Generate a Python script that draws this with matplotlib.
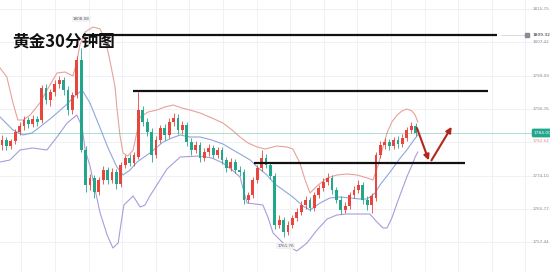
import numpy as np
import matplotlib
matplotlib.use("Agg")
import matplotlib.pyplot as plt
from matplotlib.patches import FancyBboxPatch

# ---------------- data ----------------
opens = [1781.75, 1783, 1781.5, 1782.75, 1785, 1786.5, 1788, 1787, 1788.25, 1788,
         1796, 1793, 1795, 1797, 1798, 1795.5, 1790.5, 1794.25, 1803, 1780.5,
         1771.75, 1773.5, 1770, 1773, 1775.5, 1773, 1775, 1772, 1776.75, 1778.5,
         1777.25, 1778.75, 1790.5, 1787.5, 1785, 1779.25, 1783, 1786, 1784.25, 1787.5,
         1788.5, 1785.5, 1786.75, 1782.5, 1780.5, 1781.75, 1778.5, 1780, 1781, 1779.25,
         1780.5, 1778, 1776, 1777.5, 1775.5, 1775, 1768, 1769.25, 1773, 1776,
         1778.5, 1776.75, 1774, 1761.75, 1763, 1760, 1761.75, 1763.5, 1765, 1766.75,
         1768, 1766, 1769.25, 1771, 1772.5, 1773.5, 1770.5, 1768, 1765.5, 1766.5,
         1769.25, 1770.5, 1771.75, 1768, 1766.75, 1768.5, 1779.25, 1781.75, 1782.5, 1781.5,
         1783, 1782, 1783.5, 1785.5, 1786.5]
closes = [1783, 1781.5, 1782.75, 1785, 1786.5, 1788, 1787, 1788.25, 1787.5, 1796,
          1793, 1795, 1797, 1798, 1795.5, 1790.5, 1794.25, 1803, 1780.5, 1771.75,
          1773.5, 1770, 1773, 1775.5, 1773, 1775, 1772, 1776.75, 1778.5, 1777.25,
          1779.25, 1790.5, 1787.5, 1785, 1779.25, 1783, 1786, 1784.25, 1787.5, 1788.5,
          1785.5, 1786.75, 1782.5, 1780.5, 1781.75, 1778.5, 1780, 1781, 1779.25, 1780.5,
          1778, 1776, 1777.5, 1775.5, 1775, 1768, 1769.25, 1773, 1776, 1778.5,
          1776.75, 1774, 1761.75, 1763, 1760, 1761.75, 1763.5, 1765, 1766.75, 1768,
          1766, 1769.25, 1771, 1772.5, 1773.5, 1770.5, 1768, 1765.5, 1766.5, 1769.25,
          1770.5, 1771.75, 1768, 1766.75, 1769, 1779.25, 1781.75, 1782.5, 1781.5, 1783,
          1782, 1783.5, 1785.5, 1786.5, 1784.75]
highs = [1784.25, 1783.75, 1783.25, 1785.75, 1787.5, 1789, 1788.75, 1789.25, 1789, 1796.75,
         1797, 1795.75, 1798, 1799, 1798.75, 1796.5, 1795, 1804, 1806, 1781.5,
         1774.5, 1774.25, 1773.75, 1776.5, 1776.25, 1776, 1775.75, 1777.5, 1779.25, 1779.5,
         1780, 1795, 1791.5, 1788.5, 1786, 1784, 1786.75, 1787, 1788.5, 1789.75,
         1789.5, 1787.75, 1787.5, 1783.5, 1782.75, 1782.5, 1781, 1782, 1781.75, 1781.25,
         1781.25, 1778.75, 1778.5, 1778.25, 1776.5, 1775.75, 1770, 1773.75, 1776.75, 1780.5,
         1779.5, 1777.5, 1774.75, 1764.25, 1763.75, 1762.75, 1764.25, 1766, 1767.75, 1769,
         1768.75, 1770, 1771.75, 1773.5, 1774.75, 1774.25, 1771.25, 1769, 1767.5, 1770,
         1771.5, 1773, 1772.5, 1769, 1769.75, 1780, 1782.75, 1783.5, 1783.25, 1783.75,
         1784, 1784.5, 1786.25, 1787.5, 1787.25]
lows = [1780.5, 1780.5, 1780.75, 1782, 1784.25, 1785.5, 1786, 1786.25, 1786.5, 1787.25,
        1792, 1791.5, 1794, 1796, 1794.25, 1789.25, 1789.5, 1793.5, 1780, 1770,
        1770.5, 1768.5, 1769.25, 1772, 1772, 1772.25, 1770.75, 1771.25, 1776, 1776.5,
        1776.5, 1778.25, 1786.5, 1784, 1777.5, 1778.5, 1782.25, 1783, 1783.5, 1786.5,
        1784.5, 1784.5, 1781.5, 1779.25, 1779.75, 1777.5, 1777.75, 1779, 1778.5, 1778.5,
        1777, 1775, 1775.25, 1774.75, 1774, 1767, 1767.25, 1768.5, 1772.25, 1775.25,
        1776, 1773.25, 1760.75, 1761, 1758.75, 1759.25, 1761, 1762.75, 1764.25, 1765.75,
        1765.25, 1765.25, 1768.5, 1770.25, 1771.75, 1769.5, 1767.25, 1764.5, 1764.75, 1765.75,
        1768.5, 1769.75, 1767, 1765.5, 1764.75, 1767.75, 1778.5, 1780.75, 1780.5, 1780.75,
        1781, 1781.25, 1782.75, 1784.75, 1784]

upper_x = [-0.45, 1.1, 2.5, 3.6, 4.8, 6.4, 8.6, 10.9, 12.5, 14.3, 16.1, 17.0, 17.7, 18.9,
           20.7, 22.3, 23.6, 24.5, 25.7, 26.1, 26.8, 27.5, 28.6, 29.8, 31.4, 33.2, 35.2,
           37.0, 38.9, 40.9, 42.7, 45.0, 47.7, 50.2, 52.3, 54.1, 55.9, 58.0, 59.8, 62.5,
           64.8, 66.1, 67.7, 68.9, 70.0, 71.6, 73.9, 76.1, 78.4, 80.7, 83.0, 84.3, 85.5,
           86.4, 87.5, 88.6, 89.8, 90.9, 92.0, 93.2, 93.9, 94.5]
upper_y = [1801, 1798.75, 1792.25, 1788, 1788, 1789.25, 1792.25, 1796.75, 1799.75, 1800,
           1799, 1802.5, 1806.75, 1810, 1811.25, 1810.75, 1807.5, 1803, 1796.25, 1791.25,
           1784.25, 1779.75, 1779, 1780.5, 1788.75, 1790, 1790.5, 1791.25, 1791.75, 1791,
           1790.5, 1789.75, 1788.5, 1787.25, 1785.5, 1783.75, 1782.25, 1781.25, 1780.75,
           1781.5, 1781.25, 1780.75, 1777.25, 1773, 1769.75, 1771.5, 1773.5, 1774.25,
           1774.5, 1774.25, 1773.5, 1773, 1776.75, 1780.5, 1784.75, 1787.5, 1789.25,
           1790.25, 1790.75, 1790.25, 1789.25, 1787.5]
mid_x = [-0.45, 2.5, 4.8, 6.8, 8.6, 10.9, 12.5, 14.3, 16.1, 18.2, 20.0, 21.1, 22.3, 24.1,
         26.1, 27.5, 29.1, 30.7, 33.6, 36.6, 38.6, 40.5, 42.7, 45.0, 47.7, 50.2, 52.5,
         54.1, 56.4, 58.0, 60.2, 62.0, 66.1, 68.4, 70.0, 72.3, 74.5, 76.8, 79.1, 81.4,
         83.0, 84.8, 85.9, 88.2, 90.5, 92.0, 93.6, 94.5]
mid_y = [1788.75, 1785.5, 1784.25, 1784.75, 1786.25, 1788.25, 1789.75, 1791.5, 1793.5,
         1795.5, 1792.25, 1789.25, 1786, 1781, 1776.25, 1774.25, 1775.5, 1777.5, 1779.75,
         1782.5, 1783.5, 1784.25, 1783.75, 1783.75, 1783, 1782, 1780.5, 1779.5, 1778,
         1776.25, 1774.25, 1772, 1768.75, 1766.5, 1765.5, 1767.25, 1768.5, 1768.75,
         1768.5, 1768.25, 1768.25, 1769.75, 1771.75, 1775, 1778.5, 1780.5, 1783, 1784.25]
lower_x = [-0.45, 1.8, 4.1, 7.0, 10.2, 12.5, 14.8, 17.0, 18.2, 18.9, 20.0, 22.3, 23.9,
           25.2, 26.4, 27.0, 27.7, 29.8, 31.4, 32.5, 33.6, 37.5, 40.5, 45.0, 47.7, 50.2,
           52.3, 54.1, 55.0, 55.7, 57.5, 59.3, 60.5, 61.6, 63.9, 67.0, 69.3, 71.6, 73.9,
           76.1, 78.4, 81.4, 83.6, 85.2, 86.6, 87.5, 88.6, 89.8, 90.9, 92.0, 93.2, 93.9, 94.5]
lower_y = [1777.5, 1778, 1780.5, 1781, 1780.5, 1783.75, 1787.25, 1789.25, 1786.25, 1780.5,
           1776.5, 1764.75, 1759.25, 1756, 1757.25, 1761.75, 1766.75, 1769, 1766.25,
           1766.75, 1769, 1775.75, 1778.75, 1779, 1778.5, 1777.25, 1775.5, 1773.75, 1770,
           1767.25, 1767, 1766.75, 1763.5, 1759.75, 1757.25, 1755.25, 1757.25, 1760.5,
           1763.25, 1764.25, 1764.5, 1764.5, 1764.5, 1762.5, 1761, 1761, 1763.5, 1767.25,
           1770.5, 1773.75, 1776.75, 1778.75, 1780]

# trend lines (start idx, end idx, price)
lines_x0 = [18.4, 29.8, 57.3]
lines_x1 = [112.5, 110.5, 105.2]
lines_p = [1809.32, 1795.25, 1777.25]

axis_prices = [1815.75, 1807.42, 1799.09, 1790.76, 1774.10, 1765.77, 1757.44]
axis_labels = ["1815.75", "1807.42", "1799.09", "1790.76", "1774.10", "1765.77", "1757.44"]

title = "黄金30分钟图"
high_label, high_idx, high_p = "1808.08", 18, 1813.3
low_label, low_idx, low_p = "1761.76", 64.5, 1756.5
last_label = "1784.00"
level_label = "1809.32"
sub_label = "1782.64"

# ---------------- drawing ----------------
RED = "#e8453c"
GREEN = "#22a68c"

fig = plt.figure(figsize=(5.5, 2.72), dpi=100)
ax = fig.add_axes([0, 0, 1, 1])
ax.set_xlim(-0.4545, 124.545)
ax.set_ylim(1750, 1818)
ax.axis("off")
fig.patch.set_facecolor("white")

# grid
for gx in np.arange(4.41, 124, 7.636):
    ax.axvline(gx, color="#eceff3", lw=0.6, zorder=0)
for gp in [1815.75, 1807.42, 1799.09, 1790.76, 1782.43, 1774.10, 1765.77, 1757.44]:
    ax.axhline(gp, color="#eceff3", lw=0.6, zorder=0)

# bollinger bands
ax.plot(upper_x, upper_y, color="#e6a29c", lw=0.8, zorder=1)
ax.plot(mid_x, mid_y, color="#8ea7de", lw=0.8, zorder=1)
ax.plot(lower_x, lower_y, color="#a79ddb", lw=0.8, zorder=1)

# candles
o = np.array(opens); c = np.array(closes); h = np.array(highs); l = np.array(lows)
idx = np.arange(len(o))
cols = np.where(c >= o, RED, GREEN)
ax.vlines(idx, l, h, colors=cols, lw=0.6, zorder=2)
body = np.maximum(np.abs(c - o), 0.25)
ax.bar(idx, body, bottom=np.minimum(o, c), width=0.62, color=cols, linewidth=0, zorder=3)

# horizontal lines
for x0, x1, p in zip(lines_x0, lines_x1, lines_p):
    ax.plot([x0, x1], [p, p], color="#111111", lw=1.6, zorder=4, solid_capstyle="butt")

# current price line
ax.axhline(closes[-1], color=GREEN, lw=0.5, alpha=0.5, zorder=1)
ax.plot([113.5, 119.2], [1809.32, 1809.32], color="#c8ccd2", lw=0.5, zorder=1)

# arrows
arrow_kw = dict(arrowstyle="-|>", color="#b3261e", lw=1.5, mutation_scale=8,
                shrinkA=0, shrinkB=0)
ax.annotate("", xy=(97.0, 1777.9), xytext=(94.3, 1786.0), arrowprops=arrow_kw, zorder=5)
ax.annotate("", xy=(102.2, 1786.3), xytext=(97.6, 1777.9), arrowprops=arrow_kw, zorder=5)

# title
ax.text(12 / 550, 1 - 32 / 272, title, transform=ax.transAxes, fontsize=12,
        fontweight="bold", family=["Noto Sans CJK SC", "DejaVu Sans"],
        va="top", ha="left", color="#111111", zorder=6)

# right axis labels
for p, s in zip(axis_prices, axis_labels):
    ax.text(120.6, p, s, fontsize=3, color="#8a8f98", va="center", ha="left")
ax.text(120.6, 1809.32, level_label, fontsize=3.2, color="#222222", va="center", ha="left")
ax.plot([119.3], [1809.32], marker="s", ms=2.5, color="#888c94", zorder=5)
tag = FancyBboxPatch((120.4, closes[-1] - 1.1), 4.4, 2.2, boxstyle="round,pad=0,rounding_size=0.4",
                     fc=GREEN, ec="none", zorder=6)
ax.add_patch(tag)
ax.text(120.8, closes[-1], last_label, fontsize=3.2, color="white", va="center", ha="left", zorder=7)
ax.text(120.6, closes[-1] - 2.0, sub_label, fontsize=3, color="#e58a86", va="center", ha="left")

# high / low labels
for s, x, p in [(high_label, high_idx, high_p), (low_label, low_idx, low_p)]:
    ax.text(x, p, s, fontsize=3, color="#555a62", va="center", ha="center",
            bbox=dict(boxstyle="square,pad=0.3", fc="#f1f2f4", ec="none"), zorder=6)

fig.savefig("out.png", dpi=100, facecolor="white")
